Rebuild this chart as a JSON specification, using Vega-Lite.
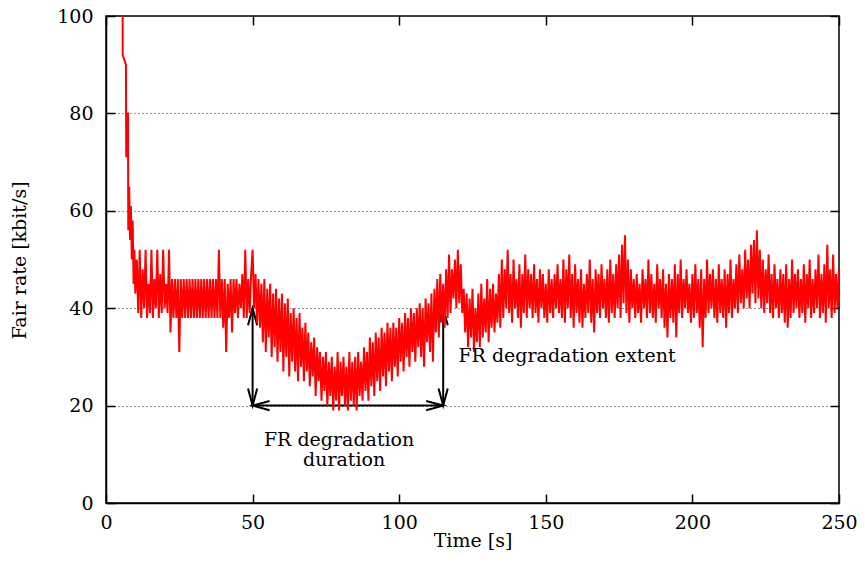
{
  "$schema": "https://vega.github.io/schema/vega-lite/v6.json",
  "width": 733,
  "height": 487,
  "autosize": {"type": "none"},
  "padding": {"left": 106, "top": 16, "right": 26, "bottom": 65},
  "background": "white",
  "config": {
    "font": "DejaVu Serif",
    "view": {"stroke": "black", "strokeWidth": 1.5},
    "axis": {
      "labelFont": "DejaVu Serif", "labelFontSize": 19, "labelColor": "black",
      "titleFont": "DejaVu Serif", "titleFontSize": 19, "titleFontWeight": "normal", "titleColor": "black",
      "domainColor": "black", "domainWidth": 1.5, "tickColor": "black", "tickWidth": 1.5, "tickSize": 9,
      "labelFlush": false, "labelOverlap": false
    }
  },
  "datasets": {
    "arrows": [
      {"t": 50, "t2": 50, "r": 40, "r2": 20},
      {"t": 115, "t2": 115, "r": 40, "r2": 20},
      {"t": 50, "t2": 115, "r": 20, "r2": 20}
    ],
    "heads": [
      {"t": 50, "r": 20, "dir": "down"},
      {"t": 115, "r": 20, "dir": "down"},
      {"t": 50, "r": 20, "dir": "left"},
      {"t": 115, "r": 20, "dir": "right"},
      {"t": 50, "r": 40, "dir": "up"},
      {"t": 115, "r": 40, "dir": "up"}
    ],
    "labels": [
      {"t": 79.5, "r": 11.65, "label": "FR degradation"},
      {"t": 81.2, "r": 7.55, "label": "duration"}
    ],
    "extent": [
      {"t": 120.2, "r": 28.9, "label": "FR degradation extent"}
    ],
    "fr": [
      {"t":5.6,"r":130},{"t":5.7,"r":92},{"t":6.8,"r":90},{"t":6.9,"r":71},{"t":7.2,"r":80},{"t":7.5,"r":80},{"t":7.6,"r":56},{"t":7.9,"r":65},{"t":8.2,"r":54},{"t":8.5,"r":61},{"t":8.8,"r":50},{"t":9.1,"r":58},{"t":9.4,"r":45},{"t":9.7,"r":52},
      {"t":10,"r":43},{"t":10.5,"r":50},{"t":11,"r":39},{"t":11.5,"r":52},{"t":12,"r":38},{"t":12.5,"r":48},{"t":13,"r":40},{"t":13.5,"r":52},{"t":14,"r":38},{"t":14.5,"r":45},
      {"t":15,"r":39},{"t":15.5,"r":52},{"t":16,"r":38},{"t":16.5,"r":46},{"t":17,"r":40},{"t":17.5,"r":52},{"t":18,"r":38},{"t":18.5,"r":47},{"t":19,"r":39},{"t":19.5,"r":52},
      {"t":20,"r":40},{"t":20.5,"r":45},{"t":21,"r":39},{"t":21.5,"r":52},{"t":22,"r":35},{"t":22.5,"r":46},{"t":23,"r":38},{"t":23.5,"r":46},{"t":24,"r":38},{"t":24.5,"r":46},
      {"t":25,"r":31},{"t":25.5,"r":46},{"t":26,"r":38},{"t":26.5,"r":46},{"t":27,"r":38},{"t":27.5,"r":46},{"t":28,"r":38},{"t":28.5,"r":46},{"t":29,"r":38},{"t":29.5,"r":46},
      {"t":30,"r":38},{"t":30.5,"r":46},{"t":31,"r":38},{"t":31.5,"r":46},{"t":32,"r":38},{"t":32.5,"r":46},{"t":33,"r":38},{"t":33.5,"r":46},{"t":34,"r":38},{"t":34.5,"r":46},
      {"t":35,"r":38},{"t":35.5,"r":46},{"t":36,"r":38},{"t":36.5,"r":46},{"t":37,"r":38},{"t":37.5,"r":46},{"t":38,"r":38},{"t":38.5,"r":52},{"t":39,"r":38},{"t":39.5,"r":46},
      {"t":40,"r":36},{"t":40.5,"r":46},{"t":41,"r":31},{"t":41.5,"r":45},{"t":42,"r":38},{"t":42.5,"r":46},{"t":43,"r":35},{"t":43.5,"r":46},{"t":44,"r":39},{"t":44.5,"r":46},
      {"t":45,"r":38},{"t":45.5,"r":45},{"t":46,"r":40},{"t":46.5,"r":47},{"t":47,"r":38},{"t":47.5,"r":52},{"t":48,"r":38},{"t":48.5,"r":46},{"t":49,"r":39},{"t":49.5,"r":47},
      {"t":50,"r":52},{"t":50.5,"r":40},{"t":51,"r":47},{"t":51.5,"r":37},{"t":52,"r":46},{"t":52.5,"r":36},{"t":53,"r":45},{"t":53.5,"r":33},{"t":54,"r":46},{"t":54.5,"r":31},
      {"t":55,"r":44},{"t":55.5,"r":34},{"t":56,"r":45},{"t":56.5,"r":30},{"t":57,"r":43},{"t":57.5,"r":32},{"t":58,"r":44},{"t":58.5,"r":29},{"t":59,"r":42},{"t":59.5,"r":31},
      {"t":60,"r":43},{"t":60.5,"r":27},{"t":61,"r":41},{"t":61.5,"r":30},{"t":62,"r":42},{"t":62.5,"r":26},{"t":63,"r":39},{"t":63.5,"r":29},{"t":64,"r":40},{"t":64.5,"r":27},
      {"t":65,"r":38},{"t":65.5,"r":25},{"t":66,"r":39},{"t":66.5,"r":28},{"t":67,"r":36},{"t":67.5,"r":25},{"t":68,"r":37},{"t":68.5,"r":27},{"t":69,"r":35},{"t":69.5,"r":24},
      {"t":70,"r":33},{"t":70.5,"r":26},{"t":71,"r":34},{"t":71.5,"r":22},{"t":72,"r":32},{"t":72.5,"r":25},{"t":73,"r":31},{"t":73.5,"r":21},{"t":74,"r":30},{"t":74.5,"r":23},
      {"t":75,"r":31},{"t":75.5,"r":20},{"t":76,"r":29},{"t":76.5,"r":22},{"t":77,"r":30},{"t":77.5,"r":19},{"t":78,"r":28},{"t":78.5,"r":21},{"t":79,"r":31},{"t":79.5,"r":19},
      {"t":80,"r":29},{"t":80.5,"r":22},{"t":81,"r":30},{"t":81.5,"r":20},{"t":82,"r":28},{"t":82.5,"r":19},{"t":83,"r":31},{"t":83.5,"r":21},{"t":84,"r":29},{"t":84.5,"r":20},
      {"t":85,"r":30},{"t":85.5,"r":19},{"t":86,"r":31},{"t":86.5,"r":22},{"t":87,"r":29},{"t":87.5,"r":21},{"t":88,"r":32},{"t":88.5,"r":23},{"t":89,"r":31},{"t":89.5,"r":21},
      {"t":90,"r":34},{"t":90.5,"r":24},{"t":91,"r":33},{"t":91.5,"r":22},{"t":92,"r":35},{"t":92.5,"r":25},{"t":93,"r":34},{"t":93.5,"r":23},{"t":94,"r":36},{"t":94.5,"r":26},
      {"t":95,"r":35},{"t":95.5,"r":24},{"t":96,"r":37},{"t":96.5,"r":27},{"t":97,"r":36},{"t":97.5,"r":25},{"t":98,"r":37},{"t":98.5,"r":28},{"t":99,"r":36},{"t":99.5,"r":26},
      {"t":100,"r":38},{"t":100.5,"r":29},{"t":101,"r":37},{"t":101.5,"r":27},{"t":102,"r":39},{"t":102.5,"r":30},{"t":103,"r":38},{"t":103.5,"r":28},{"t":104,"r":40},{"t":104.5,"r":31},
      {"t":105,"r":39},{"t":105.5,"r":29},{"t":106,"r":40},{"t":106.5,"r":32},{"t":107,"r":41},{"t":107.5,"r":30},{"t":108,"r":40},{"t":108.5,"r":28},{"t":109,"r":42},{"t":109.5,"r":33},
      {"t":110,"r":41},{"t":110.5,"r":31},{"t":111,"r":43},{"t":111.5,"r":29},{"t":112,"r":44},{"t":112.5,"r":35},{"t":113,"r":46},{"t":113.5,"r":34},{"t":114,"r":47},{"t":114.5,"r":37},
      {"t":115,"r":45},{"t":115.5,"r":36},{"t":116,"r":48},{"t":116.5,"r":38},{"t":117,"r":51},{"t":117.5,"r":39},{"t":118,"r":48},{"t":118.5,"r":42},{"t":119,"r":50},{"t":119.5,"r":40},
      {"t":120,"r":52},{"t":120.5,"r":41},{"t":121,"r":49},{"t":121.5,"r":39},{"t":122,"r":44},{"t":122.5,"r":35},{"t":123,"r":43},{"t":123.5,"r":32},{"t":124,"r":42},{"t":124.5,"r":34},
      {"t":125,"r":44},{"t":125.5,"r":31},{"t":126,"r":40},{"t":126.5,"r":33},{"t":127,"r":43},{"t":127.5,"r":32},{"t":128,"r":45},{"t":128.5,"r":34},{"t":129,"r":42},{"t":129.5,"r":35},
      {"t":130,"r":46},{"t":130.5,"r":33},{"t":131,"r":44},{"t":131.5,"r":36},{"t":132,"r":45},{"t":132.5,"r":35},{"t":133,"r":43},{"t":133.5,"r":37},{"t":134,"r":47},{"t":134.5,"r":36},
      {"t":135,"r":50},{"t":135.5,"r":38},{"t":136,"r":48},{"t":136.5,"r":40},{"t":137,"r":52},{"t":137.5,"r":39},{"t":138,"r":47},{"t":138.5,"r":37},{"t":139,"r":50},{"t":139.5,"r":40},
      {"t":140,"r":46},{"t":140.5,"r":38},{"t":141,"r":49},{"t":141.5,"r":36},{"t":142,"r":47},{"t":142.5,"r":39},{"t":143,"r":51},{"t":143.5,"r":38},{"t":144,"r":48},{"t":144.5,"r":40},
      {"t":145,"r":47},{"t":145.5,"r":38},{"t":146,"r":49},{"t":146.5,"r":39},{"t":147,"r":46},{"t":147.5,"r":37},{"t":148,"r":48},{"t":148.5,"r":40},{"t":149,"r":47},{"t":149.5,"r":38},
      {"t":150,"r":45},{"t":150.5,"r":37},{"t":151,"r":48},{"t":151.5,"r":39},{"t":152,"r":46},{"t":152.5,"r":38},{"t":153,"r":47},{"t":153.5,"r":40},{"t":154,"r":49},{"t":154.5,"r":39},
      {"t":155,"r":46},{"t":155.5,"r":38},{"t":156,"r":50},{"t":156.5,"r":37},{"t":157,"r":48},{"t":157.5,"r":40},{"t":158,"r":51},{"t":158.5,"r":38},{"t":159,"r":47},{"t":159.5,"r":36},
      {"t":160,"r":49},{"t":160.5,"r":39},{"t":161,"r":46},{"t":161.5,"r":37},{"t":162,"r":48},{"t":162.5,"r":36},{"t":163,"r":45},{"t":163.5,"r":38},{"t":164,"r":47},{"t":164.5,"r":39},
      {"t":165,"r":50},{"t":165.5,"r":37},{"t":166,"r":46},{"t":166.5,"r":35},{"t":167,"r":48},{"t":167.5,"r":39},{"t":168,"r":47},{"t":168.5,"r":38},{"t":169,"r":49},{"t":169.5,"r":40},
      {"t":170,"r":46},{"t":170.5,"r":38},{"t":171,"r":48},{"t":171.5,"r":37},{"t":172,"r":50},{"t":172.5,"r":39},{"t":173,"r":47},{"t":173.5,"r":38},{"t":174,"r":49},{"t":174.5,"r":40},
      {"t":175,"r":51},{"t":175.5,"r":38},{"t":176,"r":53},{"t":176.5,"r":41},{"t":177,"r":55},{"t":177.5,"r":39},{"t":178,"r":50},{"t":178.5,"r":37},{"t":179,"r":48},{"t":179.5,"r":40},
      {"t":180,"r":46},{"t":180.5,"r":38},{"t":181,"r":47},{"t":181.5,"r":39},{"t":182,"r":45},{"t":182.5,"r":37},{"t":183,"r":48},{"t":183.5,"r":40},{"t":184,"r":46},{"t":184.5,"r":38},
      {"t":185,"r":50},{"t":185.5,"r":39},{"t":186,"r":47},{"t":186.5,"r":38},{"t":187,"r":45},{"t":187.5,"r":37},{"t":188,"r":49},{"t":188.5,"r":40},{"t":189,"r":46},{"t":189.5,"r":38},
      {"t":190,"r":48},{"t":190.5,"r":36},{"t":191,"r":45},{"t":191.5,"r":34},{"t":192,"r":47},{"t":192.5,"r":38},{"t":193,"r":46},{"t":193.5,"r":37},{"t":194,"r":49},{"t":194.5,"r":34},
      {"t":195,"r":47},{"t":195.5,"r":39},{"t":196,"r":50},{"t":196.5,"r":38},{"t":197,"r":46},{"t":197.5,"r":40},{"t":198,"r":48},{"t":198.5,"r":39},{"t":199,"r":45},{"t":199.5,"r":37},
      {"t":200,"r":47},{"t":200.5,"r":38},{"t":201,"r":49},{"t":201.5,"r":39},{"t":202,"r":46},{"t":202.5,"r":36},{"t":203,"r":48},{"t":203.5,"r":32},{"t":204,"r":46},{"t":204.5,"r":38},
      {"t":205,"r":50},{"t":205.5,"r":39},{"t":206,"r":47},{"t":206.5,"r":40},{"t":207,"r":48},{"t":207.5,"r":38},{"t":208,"r":46},{"t":208.5,"r":37},{"t":209,"r":49},{"t":209.5,"r":39},
      {"t":210,"r":46},{"t":210.5,"r":38},{"t":211,"r":48},{"t":211.5,"r":36},{"t":212,"r":47},{"t":212.5,"r":39},{"t":213,"r":50},{"t":213.5,"r":38},{"t":214,"r":46},{"t":214.5,"r":40},
      {"t":215,"r":49},{"t":215.5,"r":39},{"t":216,"r":51},{"t":216.5,"r":41},{"t":217,"r":48},{"t":217.5,"r":40},{"t":218,"r":52},{"t":218.5,"r":42},{"t":219,"r":50},{"t":219.5,"r":40},
      {"t":220,"r":53},{"t":220.5,"r":43},{"t":221,"r":54},{"t":221.5,"r":41},{"t":222,"r":56},{"t":222.5,"r":42},{"t":223,"r":52},{"t":223.5,"r":40},{"t":224,"r":50},{"t":224.5,"r":39},
      {"t":225,"r":48},{"t":225.5,"r":41},{"t":226,"r":51},{"t":226.5,"r":39},{"t":227,"r":47},{"t":227.5,"r":38},{"t":228,"r":49},{"t":228.5,"r":40},{"t":229,"r":46},{"t":229.5,"r":38},
      {"t":230,"r":48},{"t":230.5,"r":39},{"t":231,"r":47},{"t":231.5,"r":37},{"t":232,"r":49},{"t":232.5,"r":36},{"t":233,"r":46},{"t":233.5,"r":38},{"t":234,"r":50},{"t":234.5,"r":39},
      {"t":235,"r":47},{"t":235.5,"r":40},{"t":236,"r":48},{"t":236.5,"r":38},{"t":237,"r":46},{"t":237.5,"r":39},{"t":238,"r":49},{"t":238.5,"r":37},{"t":239,"r":47},{"t":239.5,"r":40},
      {"t":240,"r":50},{"t":240.5,"r":38},{"t":241,"r":46},{"t":241.5,"r":39},{"t":242,"r":48},{"t":242.5,"r":40},{"t":243,"r":51},{"t":243.5,"r":38},{"t":244,"r":47},{"t":244.5,"r":39},
      {"t":245,"r":49},{"t":245.5,"r":37},{"t":246,"r":53},{"t":246.5,"r":40},{"t":247,"r":48},{"t":247.5,"r":38},{"t":248,"r":51},{"t":248.5,"r":39},{"t":249,"r":47},{"t":249.5,"r":40},
      {"t":250,"r":48}
    ]
  },
  "resolve": {"axis": {"x": "independent", "y": "independent"}},
  "layer": [
    {
      "data": {"name": "arrows"},
      "mark": {"type": "rule", "color": "black", "strokeWidth": 2},
      "encoding": {
        "x": {
          "field": "t", "type": "quantitative", "scale": {"domain": [0, 250]},
          "axis": {"orient": "bottom", "offset": -9, "values": [0, 50, 100, 150, 200, 250], "labels": false, "domain": false, "title": null, "grid": false, "ticks": true}
        },
        "x2": {"field": "t2"},
        "y": {
          "field": "r", "type": "quantitative", "scale": {"domain": [0, 100]},
          "axis": {"orient": "left", "offset": -9, "values": [0, 20, 40, 60, 80, 100], "labels": false, "domain": false, "title": null, "grid": false, "ticks": true}
        },
        "y2": {"field": "r2"}
      }
    },
    {
      "data": {"name": "heads"},
      "mark": {"type": "point", "filled": false, "stroke": "black", "strokeWidth": 2, "opacity": 1, "size": 1156},
      "encoding": {
        "x": {
          "field": "t", "type": "quantitative", "scale": {"domain": [0, 250]},
          "axis": {"orient": "top", "offset": -9, "values": [0, 50, 100, 150, 200, 250], "labels": false, "domain": false, "title": null, "grid": false, "ticks": true}
        },
        "y": {
          "field": "r", "type": "quantitative", "scale": {"domain": [0, 100]},
          "axis": {"orient": "right", "offset": -9, "values": [0, 20, 40, 60, 80, 100], "labels": false, "domain": false, "title": null, "grid": false, "ticks": true}
        },
        "shape": {
          "field": "dir", "type": "nominal", "legend": null,
          "scale": {
            "domain": ["down", "up", "left", "right"],
            "range": ["M-0.27,-1L0,0L0.27,-1", "M-0.27,1L0,0L0.27,1", "M1,-0.27L0,0L1,0.27", "M-1,-0.27L0,0L-1,0.27"]
          }
        }
      }
    },
    {
      "data": {"name": "fr"},
      "mark": {"type": "line", "color": "#ff0000", "strokeWidth": 2, "clip": true},
      "encoding": {
        "x": {
          "field": "t", "type": "quantitative", "scale": {"domain": [0, 250]},
          "axis": {
            "orient": "bottom", "values": [0, 50, 100, 150, 200, 250], "title": "Time [s]",
            "labelPadding": 10, "grid": false, "ticks": false,
            "titleX": 366.5, "titleY": 43, "titleAlign": "center", "titleBaseline": "alphabetic", "titleAngle": 0
          }
        },
        "y": {
          "field": "r", "type": "quantitative", "scale": {"domain": [0, 100]},
          "axis": {
            "orient": "left", "values": [0, 20, 40, 60, 80, 100], "title": "Fair rate [kbit/s]",
            "labelPadding": 13, "grid": true, "ticks": false, "gridDash": [1, 3], "gridColor": "#333333", "gridWidth": 1,
            "titleX": -87, "titleY": 244, "titleAngle": -90, "titleAlign": "center", "titleBaseline": "middle"
          }
        }
      }
    },
    {
      "data": {"name": "labels"},
      "mark": {"type": "text", "align": "center", "baseline": "alphabetic", "fontSize": 19, "font": "DejaVu Serif", "color": "black"},
      "encoding": {
        "x": {"field": "t", "type": "quantitative", "scale": {"domain": [0, 250]}, "axis": null},
        "y": {"field": "r", "type": "quantitative", "scale": {"domain": [0, 100]}, "axis": null},
        "text": {"field": "label"}
      }
    },
    {
      "data": {"name": "extent"},
      "mark": {"type": "text", "align": "left", "baseline": "alphabetic", "fontSize": 19, "font": "DejaVu Serif", "color": "black"},
      "encoding": {
        "x": {"field": "t", "type": "quantitative", "scale": {"domain": [0, 250]}, "axis": null},
        "y": {"field": "r", "type": "quantitative", "scale": {"domain": [0, 100]}, "axis": null},
        "text": {"field": "label"}
      }
    }
  ]
}
